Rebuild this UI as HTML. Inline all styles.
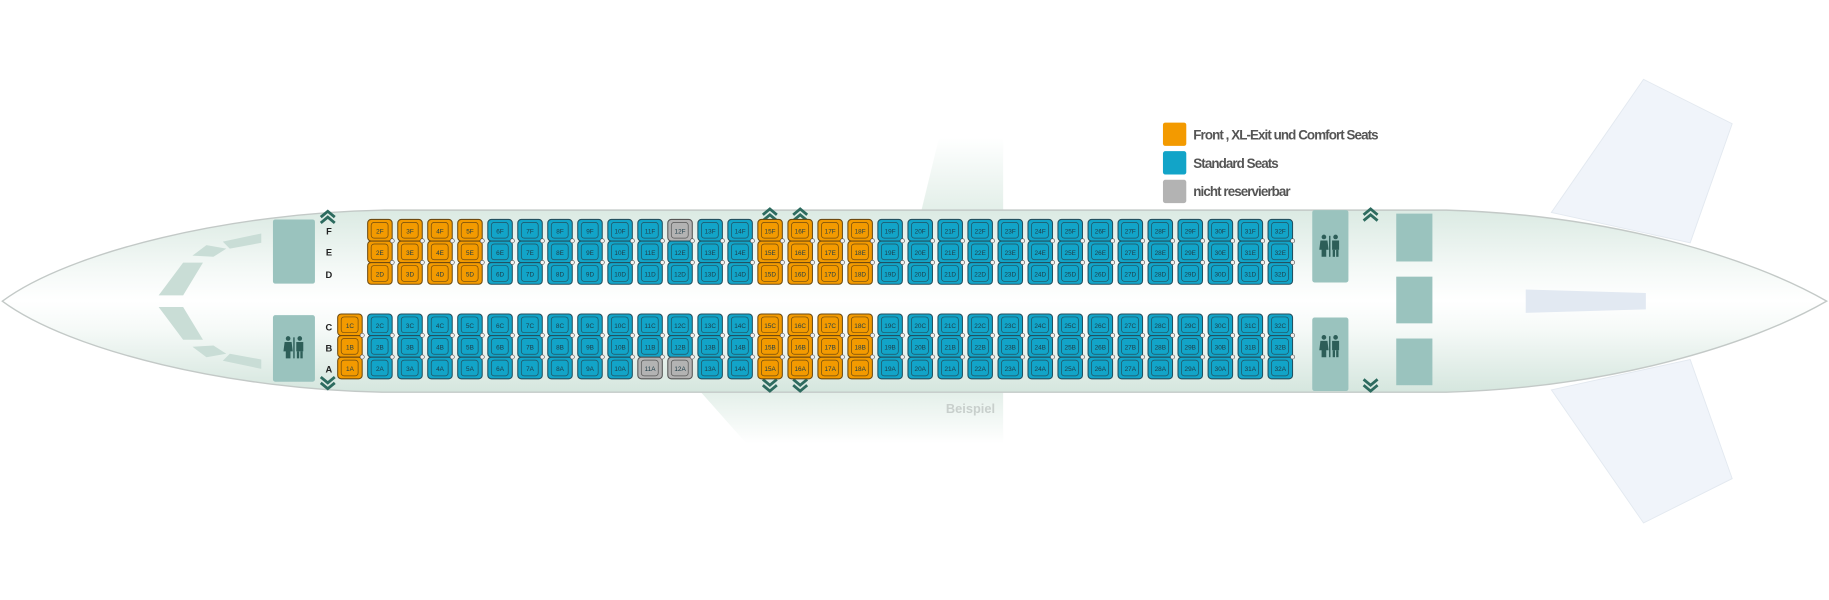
<!DOCTYPE html>
<html><head><meta charset="utf-8"><style>
html,body{margin:0;padding:0;background:#fff;}
svg{display:block}
.s{font-family:"Liberation Sans",sans-serif;font-size:5.5px;fill:#1d3d48;text-anchor:middle}
.l{font-family:"Liberation Sans",sans-serif;font-size:8px;font-weight:bold;fill:#222;text-anchor:middle}
.n{font-family:"Liberation Sans",sans-serif;font-size:10.5px;font-weight:bold;fill:#222;text-anchor:middle}
.lg{font-family:"Liberation Sans",sans-serif;font-size:11.5px;font-weight:bold;fill:#555;letter-spacing:-0.8px}
</style></head><body>
<svg width="1829" height="600" viewBox="0 0 1568 514" preserveAspectRatio="none" xmlns="http://www.w3.org/2000/svg">
<defs>
<linearGradient id="fg" x1="0" y1="0" x2="0" y2="1">
<stop offset="0" stop-color="#dbeae3"/><stop offset="0.35" stop-color="#f6faf8"/><stop offset="0.5" stop-color="#ffffff"/><stop offset="0.65" stop-color="#f6faf8"/><stop offset="1" stop-color="#d5e6de"/>
</linearGradient>
<linearGradient id="wg" x1="0" y1="0" x2="0" y2="1"><stop offset="0" stop-color="#ffffff"/><stop offset="1" stop-color="#e3efe9"/></linearGradient>
<linearGradient id="wg2" x1="0" y1="0" x2="0" y2="1"><stop offset="0" stop-color="#e3efe9"/><stop offset="1" stop-color="#ffffff"/></linearGradient>
<g id="b"><rect width="21" height="18.5" rx="3" fill="#12a4c8" stroke="#23505f" stroke-width="0.9"/><rect x="3" y="2.5" width="14.5" height="13.5" rx="2.5" fill="none" stroke="#23505f" stroke-width="0.6"/></g>
<g id="o"><rect width="21" height="18.5" rx="3" fill="#f39a00" stroke="#6e4a10" stroke-width="0.9"/><rect x="3" y="2.5" width="14.5" height="13.5" rx="2.5" fill="none" stroke="#6e4a10" stroke-width="0.6"/></g>
<g id="g"><rect width="21" height="18.5" rx="3" fill="#b3b3b3" stroke="#555" stroke-width="0.9"/><rect x="3" y="2.5" width="14.5" height="13.5" rx="2.5" fill="none" stroke="#555" stroke-width="0.6"/></g>
<g id="c"><circle cx="21" cy="18.3" r="1.8" fill="#eee" stroke="#444" stroke-width="0.5"/><circle cx="21" cy="36.8" r="1.8" fill="#eee" stroke="#444" stroke-width="0.5"/></g>
<g id="B3"><use href="#b"/><use href="#b" y="18.5"/><use href="#b" y="37"/><use href="#c"/></g>
<g id="O3"><use href="#o"/><use href="#o" y="18.5"/><use href="#o" y="37"/><use href="#c"/></g>
<path id="up" d="M-6,5 L0,0 L6,5 M-6,10 L0,5 L6,10" fill="none" stroke="#2d6b5f" stroke-width="2.4"/>
<path id="dn" d="M-6,-5 L0,0 L6,-5 M-6,-10 L0,-5 L6,-10" fill="none" stroke="#2d6b5f" stroke-width="2.4"/>
<g id="wc" fill="#2d5e58"><circle cx="-5" cy="-8" r="2"/><path d="M-8,-5 H-2 L-1,3 H-3 V9 H-7 V3 H-9 Z"/><rect x="-0.6" y="-9" width="1.2" height="18"/><circle cx="5" cy="-8" r="2"/><rect x="2" y="-5" width="6" height="8"/><rect x="2.5" y="3" width="2" height="6"/><rect x="5.5" y="3" width="2" height="6"/></g>
</defs>
<polygon points="790,180 805,118 860,118 860,180" fill="url(#wg)"/>
<polygon points="600,335 860,335 860,380 640,380" fill="url(#wg2)"/>
<polygon points="1330,182 1409,68 1485,106 1449,208" fill="#f0f4fa" stroke="#e3e9f0" stroke-width="0.8"/>
<polygon points="1330,334 1409,448 1485,410 1449,308" fill="#f0f4fa" stroke="#e3e9f0" stroke-width="0.8"/>
<path d="M2,258 C60,215 200,182 330,180 L1240,180 C1380,184 1500,220 1566,258 C1500,296 1380,332 1240,336 L330,336 C200,334 60,301 2,258 Z" fill="url(#fg)" stroke="#c3c9c7" stroke-width="1.2"/>
<polygon points="1308,248 1411,251 1411,265 1308,268" fill="#e2e9f2"/>
<text x="832" y="354" font-family="Liberation Sans,sans-serif" font-size="11" font-weight="bold" fill="#c8cfcc" text-anchor="middle">Beispiel</text>
<g fill="#c9ddd6">
<polygon points="191,207 224,200 224,208 197,213"/>
<polygon points="165,219 177,210 194,213 183,220"/>
<polygon points="136,253 157,225 174,225 157,253"/>
<polygon points="191,309 224,316 224,308 197,303"/>
<polygon points="165,297 177,306 194,303 183,296"/>
<polygon points="136,263 157,291 174,291 157,263"/>
</g>
<g fill="#9ac3be">
<rect x="234" y="188" width="36" height="55" rx="2"/>
<rect x="234" y="270" width="36" height="57" rx="2"/>
<rect x="1125" y="180" width="31" height="62" rx="2"/>
<rect x="1125" y="272" width="31" height="63" rx="2"/>
<rect x="1197" y="183" width="31" height="41"/>
<rect x="1197" y="237" width="31" height="40"/>
<rect x="1197" y="290" width="31" height="40"/>
</g>
<use href="#wc" x="252" y="298"/><use href="#wc" x="1140" y="211"/><use href="#wc" x="1140" y="297"/>
<use href="#up" x="281" y="181"/><use href="#dn" x="281" y="333"/>
<use href="#up" x="660" y="179"/><use href="#dn" x="660" y="335"/>
<use href="#up" x="686" y="179"/><use href="#dn" x="686" y="335"/>
<use href="#up" x="1175" y="179"/><use href="#dn" x="1175" y="335"/>
<text class="l" x="282" y="201">F</text><text class="l" x="282" y="219">E</text><text class="l" x="282" y="238">D</text>
<text class="l" x="282" y="283">C</text><text class="l" x="282" y="301">B</text><text class="l" x="282" y="319">A</text>
<g class="n">
<text x="300" y="291">1</text><text x="325.7" y="291">2</text><text x="351.5" y="291">3</text><text x="377.2" y="291">4</text><text x="402.9" y="291">5</text><text x="428.7" y="291">6</text><text x="454.4" y="291">7</text><text x="480.1" y="291">8</text><text x="505.8" y="291">9</text><text x="531.6" y="291">10</text><text x="557.3" y="291">11</text><text x="583" y="291">12</text><text x="608.8" y="291">13</text><text x="634.5" y="291">14</text><text x="686" y="291">17</text><text x="737.4" y="291">18</text><text x="763.1" y="291">19</text><text x="788.9" y="291">20</text><text x="814.6" y="291">21</text><text x="840.3" y="291">22</text><text x="866.1" y="291">23</text><text x="891.8" y="291">24</text><text x="917.5" y="291">25</text><text x="943.3" y="291">26</text><text x="969" y="291">27</text><text x="994.7" y="291">28</text><text x="1020.4" y="291">29</text><text x="1046.2" y="291">30</text><text x="1071.9" y="291">31</text><text x="1097.6" y="291">32</text>
</g>
<g transform="translate(289.5,0)"><use href="#O3" y="269"/><text class="s" x="10.5" y="281">1C</text><text class="s" x="10.5" y="299.5">1B</text><text class="s" x="10.5" y="318">1A</text></g>
<g transform="translate(315.2,0)"><use href="#O3" y="188"/><use href="#B3" y="269"/><text class="s" x="10.5" y="200">2F</text><text class="s" x="10.5" y="218.5">2E</text><text class="s" x="10.5" y="237">2D</text><text class="s" x="10.5" y="281">2C</text><text class="s" x="10.5" y="299.5">2B</text><text class="s" x="10.5" y="318">2A</text></g>
<g transform="translate(341,0)"><use href="#O3" y="188"/><use href="#B3" y="269"/><text class="s" x="10.5" y="200">3F</text><text class="s" x="10.5" y="218.5">3E</text><text class="s" x="10.5" y="237">3D</text><text class="s" x="10.5" y="281">3C</text><text class="s" x="10.5" y="299.5">3B</text><text class="s" x="10.5" y="318">3A</text></g>
<g transform="translate(366.7,0)"><use href="#O3" y="188"/><use href="#B3" y="269"/><text class="s" x="10.5" y="200">4F</text><text class="s" x="10.5" y="218.5">4E</text><text class="s" x="10.5" y="237">4D</text><text class="s" x="10.5" y="281">4C</text><text class="s" x="10.5" y="299.5">4B</text><text class="s" x="10.5" y="318">4A</text></g>
<g transform="translate(392.4,0)"><use href="#O3" y="188"/><use href="#B3" y="269"/><text class="s" x="10.5" y="200">5F</text><text class="s" x="10.5" y="218.5">5E</text><text class="s" x="10.5" y="237">5D</text><text class="s" x="10.5" y="281">5C</text><text class="s" x="10.5" y="299.5">5B</text><text class="s" x="10.5" y="318">5A</text></g>
<g transform="translate(418.2,0)"><use href="#B3" y="188"/><use href="#B3" y="269"/><text class="s" x="10.5" y="200">6F</text><text class="s" x="10.5" y="218.5">6E</text><text class="s" x="10.5" y="237">6D</text><text class="s" x="10.5" y="281">6C</text><text class="s" x="10.5" y="299.5">6B</text><text class="s" x="10.5" y="318">6A</text></g>
<g transform="translate(443.9,0)"><use href="#B3" y="188"/><use href="#B3" y="269"/><text class="s" x="10.5" y="200">7F</text><text class="s" x="10.5" y="218.5">7E</text><text class="s" x="10.5" y="237">7D</text><text class="s" x="10.5" y="281">7C</text><text class="s" x="10.5" y="299.5">7B</text><text class="s" x="10.5" y="318">7A</text></g>
<g transform="translate(469.6,0)"><use href="#B3" y="188"/><use href="#B3" y="269"/><text class="s" x="10.5" y="200">8F</text><text class="s" x="10.5" y="218.5">8E</text><text class="s" x="10.5" y="237">8D</text><text class="s" x="10.5" y="281">8C</text><text class="s" x="10.5" y="299.5">8B</text><text class="s" x="10.5" y="318">8A</text></g>
<g transform="translate(495.3,0)"><use href="#B3" y="188"/><use href="#B3" y="269"/><text class="s" x="10.5" y="200">9F</text><text class="s" x="10.5" y="218.5">9E</text><text class="s" x="10.5" y="237">9D</text><text class="s" x="10.5" y="281">9C</text><text class="s" x="10.5" y="299.5">9B</text><text class="s" x="10.5" y="318">9A</text></g>
<g transform="translate(521.1,0)"><use href="#B3" y="188"/><use href="#B3" y="269"/><text class="s" x="10.5" y="200">10F</text><text class="s" x="10.5" y="218.5">10E</text><text class="s" x="10.5" y="237">10D</text><text class="s" x="10.5" y="281">10C</text><text class="s" x="10.5" y="299.5">10B</text><text class="s" x="10.5" y="318">10A</text></g>
<g transform="translate(546.8,0)"><use href="#B3" y="188"/><use href="#b" y="269"/><use href="#b" y="287.5"/><use href="#g" y="306"/><use href="#c" y="269"/><text class="s" x="10.5" y="200">11F</text><text class="s" x="10.5" y="218.5">11E</text><text class="s" x="10.5" y="237">11D</text><text class="s" x="10.5" y="281">11C</text><text class="s" x="10.5" y="299.5">11B</text><text class="s" x="10.5" y="318">11A</text></g>
<g transform="translate(572.5,0)"><use href="#g" y="188"/><use href="#b" y="206.5"/><use href="#b" y="225"/><use href="#c" y="188"/><use href="#b" y="269"/><use href="#b" y="287.5"/><use href="#g" y="306"/><use href="#c" y="269"/><text class="s" x="10.5" y="200">12F</text><text class="s" x="10.5" y="218.5">12E</text><text class="s" x="10.5" y="237">12D</text><text class="s" x="10.5" y="281">12C</text><text class="s" x="10.5" y="299.5">12B</text><text class="s" x="10.5" y="318">12A</text></g>
<g transform="translate(598.3,0)"><use href="#B3" y="188"/><use href="#B3" y="269"/><text class="s" x="10.5" y="200">13F</text><text class="s" x="10.5" y="218.5">13E</text><text class="s" x="10.5" y="237">13D</text><text class="s" x="10.5" y="281">13C</text><text class="s" x="10.5" y="299.5">13B</text><text class="s" x="10.5" y="318">13A</text></g>
<g transform="translate(624,0)"><use href="#B3" y="188"/><use href="#B3" y="269"/><text class="s" x="10.5" y="200">14F</text><text class="s" x="10.5" y="218.5">14E</text><text class="s" x="10.5" y="237">14D</text><text class="s" x="10.5" y="281">14C</text><text class="s" x="10.5" y="299.5">14B</text><text class="s" x="10.5" y="318">14A</text></g>
<g transform="translate(649.7,0)"><use href="#O3" y="188"/><use href="#O3" y="269"/><text class="s" x="10.5" y="200">15F</text><text class="s" x="10.5" y="218.5">15E</text><text class="s" x="10.5" y="237">15D</text><text class="s" x="10.5" y="281">15C</text><text class="s" x="10.5" y="299.5">15B</text><text class="s" x="10.5" y="318">15A</text></g>
<g transform="translate(675.5,0)"><use href="#O3" y="188"/><use href="#O3" y="269"/><text class="s" x="10.5" y="200">16F</text><text class="s" x="10.5" y="218.5">16E</text><text class="s" x="10.5" y="237">16D</text><text class="s" x="10.5" y="281">16C</text><text class="s" x="10.5" y="299.5">16B</text><text class="s" x="10.5" y="318">16A</text></g>
<g transform="translate(701.2,0)"><use href="#O3" y="188"/><use href="#O3" y="269"/><text class="s" x="10.5" y="200">17F</text><text class="s" x="10.5" y="218.5">17E</text><text class="s" x="10.5" y="237">17D</text><text class="s" x="10.5" y="281">17C</text><text class="s" x="10.5" y="299.5">17B</text><text class="s" x="10.5" y="318">17A</text></g>
<g transform="translate(726.9,0)"><use href="#O3" y="188"/><use href="#O3" y="269"/><text class="s" x="10.5" y="200">18F</text><text class="s" x="10.5" y="218.5">18E</text><text class="s" x="10.5" y="237">18D</text><text class="s" x="10.5" y="281">18C</text><text class="s" x="10.5" y="299.5">18B</text><text class="s" x="10.5" y="318">18A</text></g>
<g transform="translate(752.6,0)"><use href="#B3" y="188"/><use href="#B3" y="269"/><text class="s" x="10.5" y="200">19F</text><text class="s" x="10.5" y="218.5">19E</text><text class="s" x="10.5" y="237">19D</text><text class="s" x="10.5" y="281">19C</text><text class="s" x="10.5" y="299.5">19B</text><text class="s" x="10.5" y="318">19A</text></g>
<g transform="translate(778.4,0)"><use href="#B3" y="188"/><use href="#B3" y="269"/><text class="s" x="10.5" y="200">20F</text><text class="s" x="10.5" y="218.5">20E</text><text class="s" x="10.5" y="237">20D</text><text class="s" x="10.5" y="281">20C</text><text class="s" x="10.5" y="299.5">20B</text><text class="s" x="10.5" y="318">20A</text></g>
<g transform="translate(804.1,0)"><use href="#B3" y="188"/><use href="#B3" y="269"/><text class="s" x="10.5" y="200">21F</text><text class="s" x="10.5" y="218.5">21E</text><text class="s" x="10.5" y="237">21D</text><text class="s" x="10.5" y="281">21C</text><text class="s" x="10.5" y="299.5">21B</text><text class="s" x="10.5" y="318">21A</text></g>
<g transform="translate(829.8,0)"><use href="#B3" y="188"/><use href="#B3" y="269"/><text class="s" x="10.5" y="200">22F</text><text class="s" x="10.5" y="218.5">22E</text><text class="s" x="10.5" y="237">22D</text><text class="s" x="10.5" y="281">22C</text><text class="s" x="10.5" y="299.5">22B</text><text class="s" x="10.5" y="318">22A</text></g>
<g transform="translate(855.6,0)"><use href="#B3" y="188"/><use href="#B3" y="269"/><text class="s" x="10.5" y="200">23F</text><text class="s" x="10.5" y="218.5">23E</text><text class="s" x="10.5" y="237">23D</text><text class="s" x="10.5" y="281">23C</text><text class="s" x="10.5" y="299.5">23B</text><text class="s" x="10.5" y="318">23A</text></g>
<g transform="translate(881.3,0)"><use href="#B3" y="188"/><use href="#B3" y="269"/><text class="s" x="10.5" y="200">24F</text><text class="s" x="10.5" y="218.5">24E</text><text class="s" x="10.5" y="237">24D</text><text class="s" x="10.5" y="281">24C</text><text class="s" x="10.5" y="299.5">24B</text><text class="s" x="10.5" y="318">24A</text></g>
<g transform="translate(907,0)"><use href="#B3" y="188"/><use href="#B3" y="269"/><text class="s" x="10.5" y="200">25F</text><text class="s" x="10.5" y="218.5">25E</text><text class="s" x="10.5" y="237">25D</text><text class="s" x="10.5" y="281">25C</text><text class="s" x="10.5" y="299.5">25B</text><text class="s" x="10.5" y="318">25A</text></g>
<g transform="translate(932.8,0)"><use href="#B3" y="188"/><use href="#B3" y="269"/><text class="s" x="10.5" y="200">26F</text><text class="s" x="10.5" y="218.5">26E</text><text class="s" x="10.5" y="237">26D</text><text class="s" x="10.5" y="281">26C</text><text class="s" x="10.5" y="299.5">26B</text><text class="s" x="10.5" y="318">26A</text></g>
<g transform="translate(958.5,0)"><use href="#B3" y="188"/><use href="#B3" y="269"/><text class="s" x="10.5" y="200">27F</text><text class="s" x="10.5" y="218.5">27E</text><text class="s" x="10.5" y="237">27D</text><text class="s" x="10.5" y="281">27C</text><text class="s" x="10.5" y="299.5">27B</text><text class="s" x="10.5" y="318">27A</text></g>
<g transform="translate(984.2,0)"><use href="#B3" y="188"/><use href="#B3" y="269"/><text class="s" x="10.5" y="200">28F</text><text class="s" x="10.5" y="218.5">28E</text><text class="s" x="10.5" y="237">28D</text><text class="s" x="10.5" y="281">28C</text><text class="s" x="10.5" y="299.5">28B</text><text class="s" x="10.5" y="318">28A</text></g>
<g transform="translate(1009.9,0)"><use href="#B3" y="188"/><use href="#B3" y="269"/><text class="s" x="10.5" y="200">29F</text><text class="s" x="10.5" y="218.5">29E</text><text class="s" x="10.5" y="237">29D</text><text class="s" x="10.5" y="281">29C</text><text class="s" x="10.5" y="299.5">29B</text><text class="s" x="10.5" y="318">29A</text></g>
<g transform="translate(1035.7,0)"><use href="#B3" y="188"/><use href="#B3" y="269"/><text class="s" x="10.5" y="200">30F</text><text class="s" x="10.5" y="218.5">30E</text><text class="s" x="10.5" y="237">30D</text><text class="s" x="10.5" y="281">30C</text><text class="s" x="10.5" y="299.5">30B</text><text class="s" x="10.5" y="318">30A</text></g>
<g transform="translate(1061.4,0)"><use href="#B3" y="188"/><use href="#B3" y="269"/><text class="s" x="10.5" y="200">31F</text><text class="s" x="10.5" y="218.5">31E</text><text class="s" x="10.5" y="237">31D</text><text class="s" x="10.5" y="281">31C</text><text class="s" x="10.5" y="299.5">31B</text><text class="s" x="10.5" y="318">31A</text></g>
<g transform="translate(1087.1,0)"><use href="#B3" y="188"/><use href="#B3" y="269"/><text class="s" x="10.5" y="200">32F</text><text class="s" x="10.5" y="218.5">32E</text><text class="s" x="10.5" y="237">32D</text><text class="s" x="10.5" y="281">32C</text><text class="s" x="10.5" y="299.5">32B</text><text class="s" x="10.5" y="318">32A</text></g>
<rect x="997" y="105" width="20" height="20" rx="2" fill="#f39a00"/>
<rect x="997" y="129.5" width="20" height="20" rx="2" fill="#12a4c8"/>
<rect x="997" y="154" width="20" height="20" rx="2" fill="#b3b3b3"/>
<text class="lg" x="1023" y="119.5">Front , XL-Exit und Comfort Seats</text>
<text class="lg" x="1023" y="144">Standard Seats</text>
<text class="lg" x="1023" y="168">nicht reservierbar</text>
</svg>
</body></html>
